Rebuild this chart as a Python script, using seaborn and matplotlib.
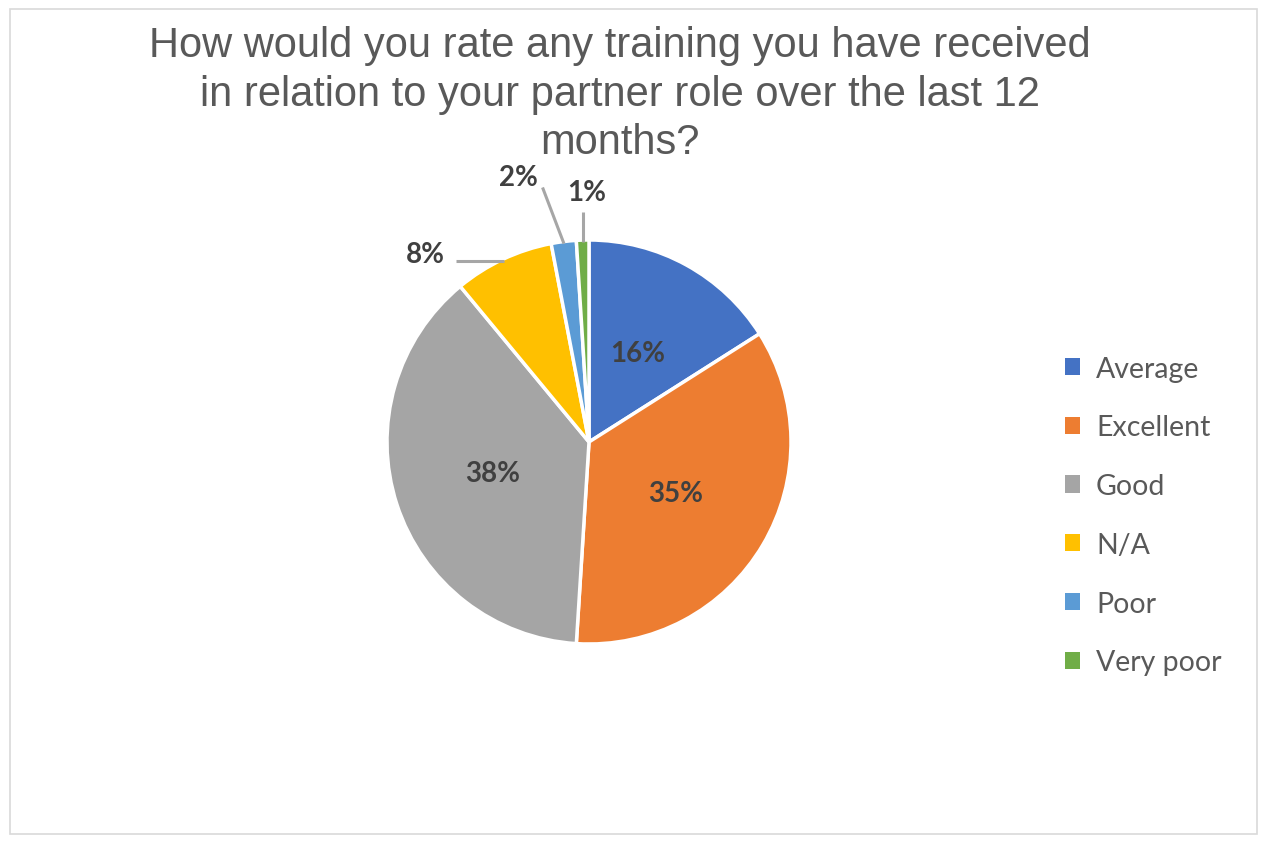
import matplotlib
matplotlib.use("Agg")
import matplotlib.pyplot as plt
import matplotlib.patches as mpatches
import numpy as np
import seaborn as sns

categories = ["Average", "Excellent", "Good", "N/A", "Poor", "Very poor"]
shares = [16, 35, 38, 8, 2, 1]
colors = ["#4472C4", "#ED7D31", "#A5A5A5", "#FFC000", "#5B9BD5", "#70AD47"]
title = "How would you rate any training you have received\nin relation to your partner role over the last 12\nmonths?"

# thin slices get an outside label: text position and leader start (pie units)
outside_text = {"N/A": (-0.81, 0.93), "Poor": (-0.35, 1.31), "Very poor": (-0.01, 1.24)}
outside_lead = {"N/A": (-0.66, None), "Poor": (-0.23, 1.26), "Very poor": (None, 1.14)}

sns.set_style("white")
plt.rcParams["font.family"] = ["Liberation Sans", "DejaVu Sans"]

fig = plt.figure(figsize=(12.68, 8.45), dpi=100)
fig.patch.set_facecolor("white")
fig.patches.append(mpatches.Rectangle((10 / 1268, 10 / 845), 1247 / 1268, 825 / 845,
                                      transform=fig.transFigure, fill=False,
                                      edgecolor="#d9d9d9", linewidth=1.2))

ax = fig.add_axes([387 / 1268, (845 - 645) / 845, 404 / 1268, 404 / 845])
wedges, _ = ax.pie(shares, colors=colors, startangle=90, counterclock=False,
                   wedgeprops=dict(edgecolor="white", linewidth=2.5))
ax.set_xlim(-1, 1)
ax.set_ylim(-1, 1)
ax.set_aspect("equal")
ax.axis("off")

lab_font = dict(family=["Lato", "DejaVu Sans"], fontsize=20, fontweight="bold", color="#404040")
for w, cat, v in zip(wedges, categories, shares):
    mid = np.deg2rad((w.theta1 + w.theta2) / 2)
    txt = f"{v}%"
    if cat in outside_text:
        tx, ty = outside_text[cat]
        ex, ey = 0.99 * np.cos(mid), 0.99 * np.sin(mid)
        sx, sy = outside_lead[cat]
        sx = ex if sx is None else sx
        sy = ey if sy is None else sy
        ax.plot([sx, ex], [sy, ey], color="#a6a6a6", lw=2.2, clip_on=False,
                solid_capstyle="butt")
        ax.text(tx, ty, txt, ha="center", va="center", clip_on=False, **lab_font)
    else:
        ax.text(0.5 * np.cos(mid), 0.5 * np.sin(mid), txt, ha="center", va="center", **lab_font)

fig.text(620 / 1268, 1 - 26 / 845, title, ha="center", va="top", fontsize=30,
         color="#595959", linespacing=1.28)

handles = [mpatches.Patch(facecolor=c, edgecolor="none") for c in colors]
fig.legend(handles, categories, loc="upper left", bbox_to_anchor=(1039 / 1268, 1 - 331 / 845),
           frameon=False, handlelength=0.55, handleheight=0.55, handletextpad=0.55,
           labelspacing=1.15, prop=dict(family=["Lato", "DejaVu Sans"], size=20.5),
           labelcolor="#595959")

plt.savefig("out.png", dpi=100, facecolor="white")
plt.close()
